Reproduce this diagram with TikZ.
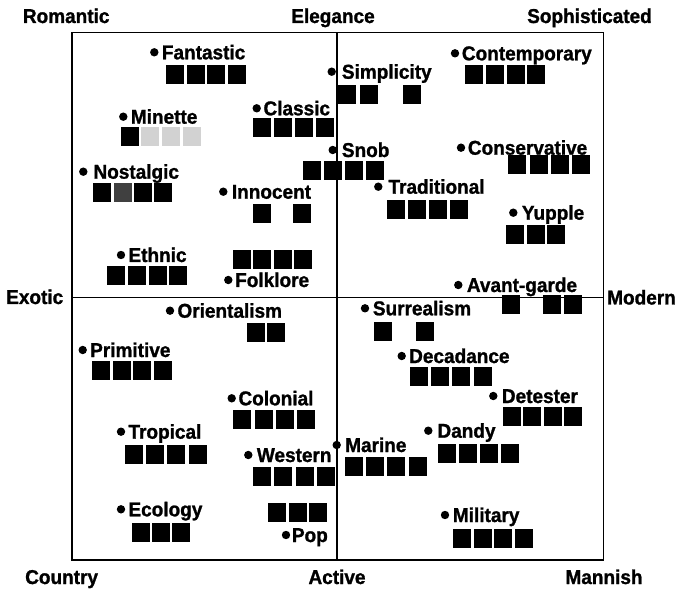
\documentclass[tikz,border=0pt]{standalone}
\usepackage{fontspec}
\setmainfont{Liberation Sans}[FakeStretch=0.95,BoldFeatures={FakeBold=1.2}]
\begin{document}
\begin{tikzpicture}[x=1pt,y=-1pt,
  lbl/.style={font=\fontsize{20}{23}\selectfont\bfseries, inner sep=0pt, text=black},
  frameline/.style={line width=1.8pt, draw=black},
  axisline/.style={line width=1.8pt, draw=black},
  sqfill/.style={fill=black},
  dotfill/.style={fill=black}]
\useasboundingbox (0,0) rectangle (677,593);
\newcommand\kwlabel[5]{%
  \fill[dotfill] (#3,#4) circle[radius=4.2pt];
  \node[lbl,anchor=base west] (#1) at (#5,#4+7) {#2};}
\newcommand\sqrow[5]{% x, y, pitch, slots, style
  \foreach \k in {#4}{\fill[#5] ({#1+(\k-1)*#3},#2) rectangle ++(18,19);}}
% frame and axes
\draw[frameline] (72,32.5) rectangle (603.5,560);
\coordinate (vt) at (337,32.5);
\coordinate (vb) at (337,560);
\coordinate (hl) at (72,297.5);
\coordinate (hr) at (603.5,297.5);
\draw[axisline] (vt) -- (vb);
\draw[axisline] (hl) -- (hr);
% axis labels
\node[lbl,anchor=base west] (romantic) at (22.7,23) {Romantic};
\node[lbl,anchor=base] (elegance) at (333,23) {Elegance};
\node[lbl,anchor=base east] (sophisticated) at (652,23) {Sophisticated};
\node[lbl,anchor=base west] (exotic) at (6,304) {Exotic};
\node[lbl,anchor=base west] (modern) at (607,304.5) {Modern};
\node[lbl,anchor=base west] (country) at (25,584) {Country};
\node[lbl,anchor=base west] (active) at (308.3,584) {Active};
\node[lbl,anchor=base west] (mannish) at (565.3,584) {Mannish};
% upper left
\kwlabel{fantastic}{Fantastic}{154.3}{52.3}{161.7}
\sqrow{166}{65}{20.5}{1,2,3,4}{sqfill}
\kwlabel{minette}{Minette}{123.3}{116.7}{130.7}
\sqrow{120.7}{126.7}{20.6}{1}{sqfill}
\sqrow{120.7}{126.7}{20.6}{2,3,4}{fill=gray!35}
\kwlabel{nostalgic}{Nostalgic}{83.3}{171.7}{93.3}
\sqrow{93.3}{183.5}{20.3}{1,3,4}{sqfill}
\sqrow{93.3}{183.5}{20.3}{2}{fill=black!75}
\kwlabel{classic}{Classic}{256.7}{108.3}{263.3}
\sqrow{253}{118.5}{21}{1,2,3,4}{sqfill}
\kwlabel{innocent}{Innocent}{223.3}{191.7}{231.7}
\sqrow{252.7}{204.5}{20.3}{1,3}{sqfill}
\kwlabel{ethnic}{Ethnic}{121}{255}{128.3}
\sqrow{107.3}{266.5}{20.6}{1,2,3,4}{sqfill}
\kwlabel{folklore}{Folklore}{228.3}{280}{235}
\sqrow{232.7}{250.5}{20.5}{1,2,3,4}{sqfill}
% upper right
\kwlabel{simplicity}{Simplicity}{331.7}{71.7}{341.7}
\sqrow{338.3}{85}{21.6}{1,2,4}{sqfill}
\kwlabel{contemporary}{Contemporary}{455}{53.3}{461.7}
\sqrow{465}{65.5}{20.8}{1,2,3,4}{sqfill}
\kwlabel{conservative}{Conservative}{461}{147.7}{467.7}
\sqrow{508.3}{155.5}{21.2}{1,2,3,4}{sqfill}
\kwlabel{snob}{Snob}{332.7}{150}{341.7}
\sqrow{303.3}{161}{20.8}{1,2,3,4}{sqfill}
\kwlabel{traditional}{Traditional}{378.3}{186.7}{388.3}
\sqrow{386.7}{200.5}{21.2}{1,2,3,4}{sqfill}
\kwlabel{yupple}{Yupple}{513.3}{212.7}{521.7}
\sqrow{506}{225}{20.5}{1,2,3}{sqfill}
\kwlabel{avantgarde}{Avant-garde}{458.3}{285}{466.7}
\sqrow{501.7}{295.5}{20.8}{1,3,4}{sqfill}
% lower right
\kwlabel{surrealism}{Surrealism}{365}{308.3}{372.7}
\sqrow{374}{322}{21}{1,3}{sqfill}
\kwlabel{decadance}{Decadance}{401.7}{356}{409}
\sqrow{410}{367}{21.2}{1,2,3,4}{sqfill}
\kwlabel{detester}{Detester}{493.3}{396}{501.7}
\sqrow{502.7}{407}{20.5}{1,2,3,4}{sqfill}
\kwlabel{dandy}{Dandy}{428.3}{430.7}{437.3}
\sqrow{438.3}{443.5}{20.8}{1,2,3,4}{sqfill}
\kwlabel{marine}{Marine}{336.7}{445}{345}
\sqrow{345}{457}{21.2}{1,2,3,4}{sqfill}
\kwlabel{military}{Military}{445}{515}{452.7}
\sqrow{452.7}{528.5}{20.8}{1,2,3,4}{sqfill}
% lower left
\kwlabel{orientalism}{Orientalism}{170}{310.7}{177.3}
\sqrow{246.7}{323.5}{20.5}{1,2}{sqfill}
\kwlabel{primitive}{Primitive}{82.7}{350}{90}
\sqrow{91.7}{360.5}{20.8}{1,2,3,4}{sqfill}
\kwlabel{colonial}{Colonial}{231.7}{398.3}{238.3}
\sqrow{233.3}{410}{21.2}{1,2,3,4}{sqfill}
\kwlabel{tropical}{Tropical}{121}{431.7}{128.3}
\sqrow{125}{445}{21.2}{1,2,3,4}{sqfill}
\kwlabel{western}{Western}{248.3}{455}{256.7}
\sqrow{252.7}{467}{21.4}{1,2,3,4}{sqfill}
\kwlabel{ecology}{Ecology}{121}{509.3}{128.3}
\sqrow{131.7}{523}{20.2}{1,2,3}{sqfill}
\kwlabel{pop}{Pop}{286}{535}{291.7}
\sqrow{268.3}{503.3}{20.2}{1,2,3}{sqfill}
\end{tikzpicture}
\end{document}
